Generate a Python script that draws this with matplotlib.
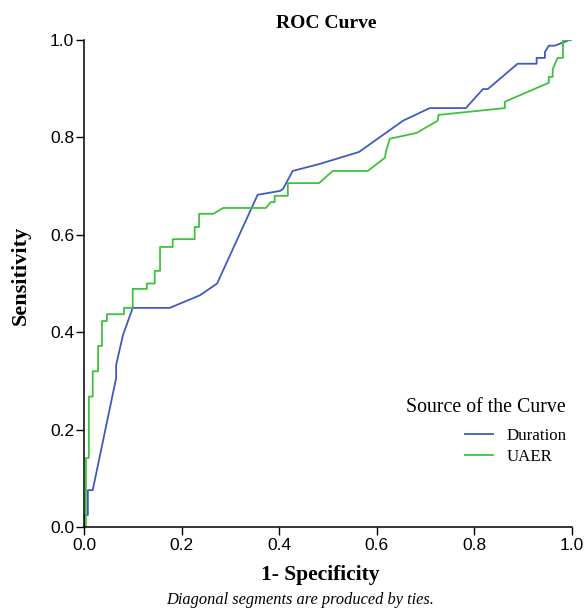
import matplotlib
matplotlib.use("Agg")
import matplotlib.pyplot as plt
from matplotlib.lines import Line2D

# ROC points (1 - specificity, sensitivity)
duration_fpr = [0.0, 0.0, 0.008, 0.008, 0.018, 0.066, 0.066, 0.080, 0.100, 0.176,
                0.238, 0.273, 0.356, 0.402, 0.408, 0.428, 0.482, 0.564, 0.654,
                0.709, 0.783, 0.818, 0.828, 0.889, 0.928, 0.928, 0.945, 0.945,
                0.953, 0.965, 0.996, 1.0]
duration_tpr = [0.0, 0.025, 0.025, 0.076, 0.076, 0.306, 0.333, 0.394, 0.450, 0.450,
                0.476, 0.500, 0.682, 0.690, 0.694, 0.731, 0.745, 0.770, 0.834,
                0.860, 0.860, 0.899, 0.899, 0.951, 0.951, 0.963, 0.963, 0.975,
                0.988, 0.988, 1.0, 1.0]

uaer_fpr = [0.0, 0.004, 0.004, 0.010, 0.010, 0.018, 0.018, 0.029, 0.029, 0.037,
            0.037, 0.047, 0.047, 0.082, 0.082, 0.100, 0.100, 0.129, 0.129, 0.145,
            0.145, 0.156, 0.156, 0.182, 0.182, 0.227, 0.227, 0.236, 0.236, 0.265,
            0.285, 0.373, 0.383, 0.391, 0.391, 0.418, 0.418, 0.482, 0.510, 0.582,
            0.617, 0.619, 0.627, 0.682, 0.725, 0.727, 0.863, 0.863, 0.953, 0.953,
            0.961, 0.961, 0.971, 0.982, 0.982, 1.0]
uaer_tpr = [0.0, 0.0, 0.142, 0.142, 0.268, 0.268, 0.320, 0.320, 0.372, 0.372,
            0.423, 0.423, 0.437, 0.437, 0.450, 0.450, 0.489, 0.489, 0.500, 0.500,
            0.526, 0.526, 0.575, 0.575, 0.591, 0.591, 0.616, 0.616, 0.643, 0.643,
            0.655, 0.655, 0.667, 0.667, 0.680, 0.680, 0.706, 0.706, 0.731, 0.731,
            0.758, 0.770, 0.797, 0.809, 0.834, 0.846, 0.860, 0.873, 0.912, 0.924,
            0.924, 0.940, 0.963, 0.963, 1.0, 1.0]

ticks = [0.0, 0.2, 0.4, 0.6, 0.8, 1.0]
series_names = ["Duration", "UAER"]
series_colors = ["#3F5BBF", "#3EC23E"]

serif = "Liberation Serif"
sans = "Liberation Sans"

fig = plt.figure(figsize=(5.87, 6.13), dpi=100)
ax = fig.add_axes([0.143, 0.140, 0.831, 0.795])

ax.plot(duration_fpr, duration_tpr, color=series_colors[0], lw=1.3)
ax.plot(uaer_fpr, uaer_tpr, color=series_colors[1], lw=1.3)

ax.set_xlim(0, 1)
ax.set_ylim(0, 1)
ax.set_xticks(ticks)
ax.set_yticks(ticks)
ax.set_xticklabels([f"{t:.1f}" for t in ticks], fontfamily=sans, fontsize=12.5)
ax.set_yticklabels([f"{t:.1f}" for t in ticks], fontfamily=sans, fontsize=12.5)
ax.tick_params(direction="out", length=6, width=1, colors="black")
ax.tick_params(axis="y", pad=1)
ax.tick_params(axis="x", pad=2)
for side in ["top", "right"]:
    ax.spines[side].set_visible(False)
for side in ["left", "bottom"]:
    ax.spines[side].set_linewidth(1.1)

fig.text(0.555, 0.961, "ROC Curve", ha="center", va="center",
         fontfamily=serif, fontweight="bold", fontsize=14)
fig.text(0.545, 0.062, "1- Specificity", ha="center", va="center",
         fontfamily=serif, fontweight="bold", fontsize=15.5)
fig.text(0.035, 0.55, "Sensitivity", ha="center", va="center", rotation=90,
         fontfamily=serif, fontweight="bold", fontsize=16)
fig.text(0.511, 0.021, "Diagonal segments are produced by ties.", ha="center",
         va="center", fontfamily=serif, fontstyle="italic", fontsize=11.75)

# legend title drawn separately so its gap to the entries can be matched
fig.text(0.963, 0.336, "Source of the Curve", ha="right", va="center",
         fontfamily=serif, fontsize=14.3)
handles = [Line2D([0], [0], color=c, lw=1.3) for c in series_colors]
fig.legend(handles, series_names, loc="center right",
           bbox_to_anchor=(0.966, 0.271), frameon=False,
           prop={"family": serif, "size": 12.2},
           handlelength=1.6, handletextpad=0.85, labelspacing=0.3,
           borderpad=0.0, borderaxespad=0.0)

fig.savefig("out.png", dpi=100)
